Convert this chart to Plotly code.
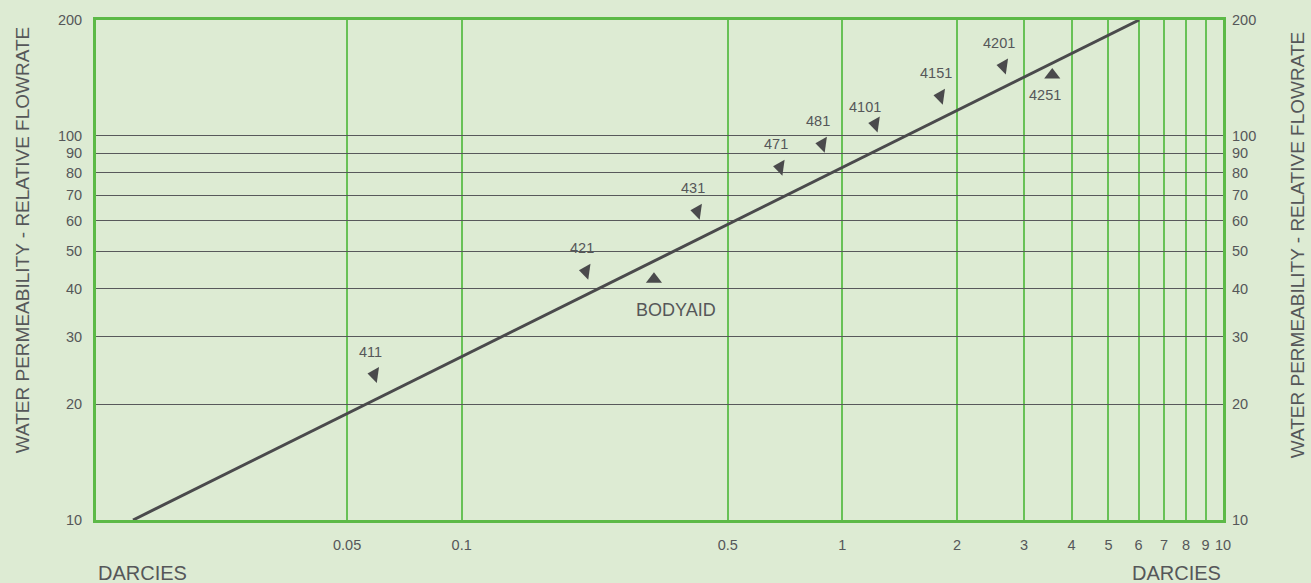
import math
import plotly.graph_objects as go

# ---- data ----
grades = ["411", "421", "BODYAID", "431", "471", "481", "4101", "4151", "4201", "4251"]
darcies = [0.059, 0.212, 0.320, 0.416, 0.686, 0.886, 1.22, 1.81, 2.65, 3.56]
flowrate = [23.9, 44.4, 42.3, 63.6, 82.8, 95.0, 107.2, 126.6, 151.9, 143.9]
marker_kind = ["left", "left", "up", "left", "left", "left", "left", "left", "left", "up"]
label_place = ["above", "above", "below_right", "above", "above", "above", "above_left", "above", "above", "below"]

fit_darcies = [0.0137, 6.02]
fit_flowrate = [10, 200]

x_ticks = [0.05, 0.1, 0.5, 1, 2, 3, 4, 5, 6, 7, 8, 9, 10]
x_ticktext = ["0.05", "0.1", "0.5", "1", "2", "3", "4", "5", "6", "7", "8", "9", "10"]
y_ticks = [10, 20, 30, 40, 50, 60, 70, 80, 90, 100, 200]
y_ticktext = ["10", "20", "30", "40", "50", "60", "70", "80", "90", "100", "200"]

x_title = "DARCIES"
y_title = "WATER PERMEABILITY - RELATIVE FLOWRATE"

# ---- styles ----
BG = "#ddebd3"
GREEN = "#5cb947"
GRIDGREEN = "#68c156"
GRAY = "#555759"
DARK = "#4a4a4c"
FONT = "Liberation Sans, Arial, sans-serif"

symbol_map = {"left": "triangle-left", "up": "triangle-up"}
angle_map = {"left": 8, "up": 0}
shift_map = {
    "above": (-4, 23),
    "above_left": (-10, 17),
    "below": (-7, -20),
    "below_right": (22, -31),
}

fig = go.Figure()

fig.add_trace(go.Scatter(
    x=fit_darcies, y=fit_flowrate, mode="lines",
    line=dict(color=DARK, width=3), hoverinfo="skip", showlegend=False,
))

fig.add_trace(go.Scatter(
    x=darcies, y=flowrate, mode="markers",
    marker=dict(
        symbol=[symbol_map[k] for k in marker_kind],
        angle=[angle_map[k] for k in marker_kind],
        size=14, color=DARK, line=dict(width=0),
    ),
    text=grades, showlegend=False,
))

# invisible trace to carry the right-hand axis
fig.add_trace(go.Scatter(
    x=fit_darcies, y=fit_flowrate, yaxis="y2", mode="lines",
    line=dict(width=0, color="rgba(0,0,0,0)"), hoverinfo="skip", showlegend=False,
))

annotations = []
for g, xv, yv, pl in zip(grades, darcies, flowrate, label_place):
    dx, dy = shift_map[pl]
    annotations.append(dict(
        x=math.log10(xv), y=math.log10(yv), xref="x", yref="y", text=g, showarrow=False,
        xanchor="center", yanchor="middle", xshift=dx, yshift=dy,
        font=dict(family=FONT, size=18 if g == "BODYAID" else 14.5, color=GRAY),
    ))

annotations += [
    dict(x=0, y=0.5595, xref="paper", yref="paper", xanchor="center", yanchor="middle",
         xshift=-74, text=y_title, textangle=-90, showarrow=False,
         font=dict(family=FONT, size=19, color=GRAY)),
    dict(x=1, y=0.5495, xref="paper", yref="paper", xanchor="center", yanchor="middle",
         xshift=74, text=y_title, textangle=-90, showarrow=False,
         font=dict(family=FONT, size=19, color=GRAY)),
    dict(x=0, y=0, xref="paper", yref="paper", xanchor="left", yanchor="middle",
         yshift=-52.7, text=x_title, showarrow=False,
         font=dict(family=FONT, size=20, color=GRAY)),
    dict(x=1, y=0, xref="paper", yref="paper", xanchor="right", yanchor="middle",
         yshift=-52.7, text=x_title, showarrow=False,
         font=dict(family=FONT, size=20, color=GRAY)),
]

yaxis_common = dict(
    type="log", range=[1, 2.30103], tickvals=y_ticks, ticktext=y_ticktext,
    tickfont=dict(family=FONT, size=14.5, color=GRAY), ticks="", zeroline=False,
    ticklabelstandoff=8,
)

fig.update_layout(
    width=1311, height=583, autosize=False,
    margin=dict(l=96, r=88, t=15, b=62.7, pad=0),
    paper_bgcolor=BG, plot_bgcolor=BG,
    font=dict(family=FONT, color=GRAY),
    xaxis=dict(
        type="log", range=[-1.9606, 1], tickvals=x_ticks, ticktext=x_ticktext,
        tickfont=dict(family=FONT, size=14.5, color=GRAY), ticks="",
        showgrid=True, gridcolor=GRIDGREEN, gridwidth=1.5,
        showline=True, linecolor=GREEN, linewidth=3, mirror=True,
        zeroline=False, ticklabelstandoff=10,
    ),
    yaxis=dict(
        **yaxis_common, showgrid=True, gridcolor="#58595b", gridwidth=1.3,
        showline=True, linecolor=GREEN, linewidth=3, mirror=True,
    ),
    yaxis2=dict(
        **yaxis_common, overlaying="y", side="right", showgrid=False,
        showline=False,
    ),
    annotations=annotations,
    showlegend=False,
)

fig.write_html(
    "out.html",
    config={"displayModeBar": False},
    post_script="document.body.style.margin='0px';document.body.style.overflow='hidden';",
)
